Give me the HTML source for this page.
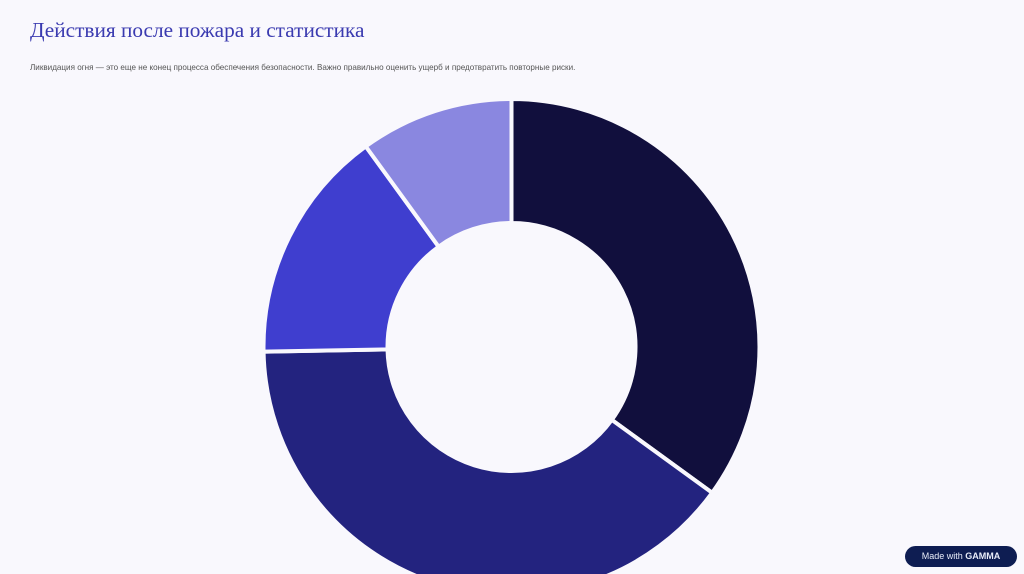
<!DOCTYPE html>
<html><head><meta charset="utf-8">
<style>
html,body{margin:0;padding:0;}
body{width:1024px;height:574px;background:#f9f8fd;position:relative;overflow:hidden;font-family:"Liberation Sans","Noto Sans CJK SC",sans-serif;}
#title{position:absolute;left:30px;top:18px;font-family:"Liberation Serif","Noto Serif CJK SC",serif;font-size:21.3px;color:#3a3ab0;white-space:nowrap;}
#sub{position:absolute;left:30px;top:63px;font-size:8.1px;color:#555;white-space:nowrap;}
#badge{position:absolute;left:905px;top:546px;width:112px;height:21px;border-radius:11px;background:#0e1d52;color:#e8ecf8;font-size:9px;line-height:21px;text-align:center;}
svg{position:absolute;left:0;top:0;}
</style></head>
<body>
<div id="title">Действия после пожара и статистика</div>
<div id="sub">Ликвидация огня — это еще не конец процесса обеспечения безопасности. Важно правильно оценить ущерб и предотвратить повторные риски.</div>
<svg id="chart" width="1024" height="574"></svg>
<div id="badge">Made with <b>GAMMA</b></div>
<script>
const categories = ["A","B","C","D"];
const values = [35, 39.7, 15.3, 10];
const colors = ["#110f3d","#23237f","#3f3ecf","#8a87e0"];
const svg = document.getElementById('chart');
const cx = 511.5, cy = 347, R = 248, r = 124;
const total = values.reduce((a,b)=>a+b,0);
function pt(rad, ang){ return [cx + rad*Math.sin(ang), cy - rad*Math.cos(ang)]; }
let a0 = 0;
values.forEach((v,i)=>{
  const a1 = a0 + v/total*2*Math.PI;
  const large = (a1-a0) > Math.PI ? 1 : 0;
  const p1=pt(R,a0), p2=pt(R,a1), p3=pt(r,a1), p4=pt(r,a0);
  const d=`M${p1[0]},${p1[1]} A${R},${R} 0 ${large} 1 ${p2[0]},${p2[1]} L${p3[0]},${p3[1]} A${r},${r} 0 ${large} 0 ${p4[0]},${p4[1]} Z`;
  const path=document.createElementNS('http://www.w3.org/2000/svg','path');
  path.setAttribute('d',d);
  path.setAttribute('fill',colors[i]);
  path.setAttribute('stroke','#f9f8fd');
  path.setAttribute('stroke-width','4');
  
  
  svg.appendChild(path);
  a0 = a1;
});
</script>
</body></html>
